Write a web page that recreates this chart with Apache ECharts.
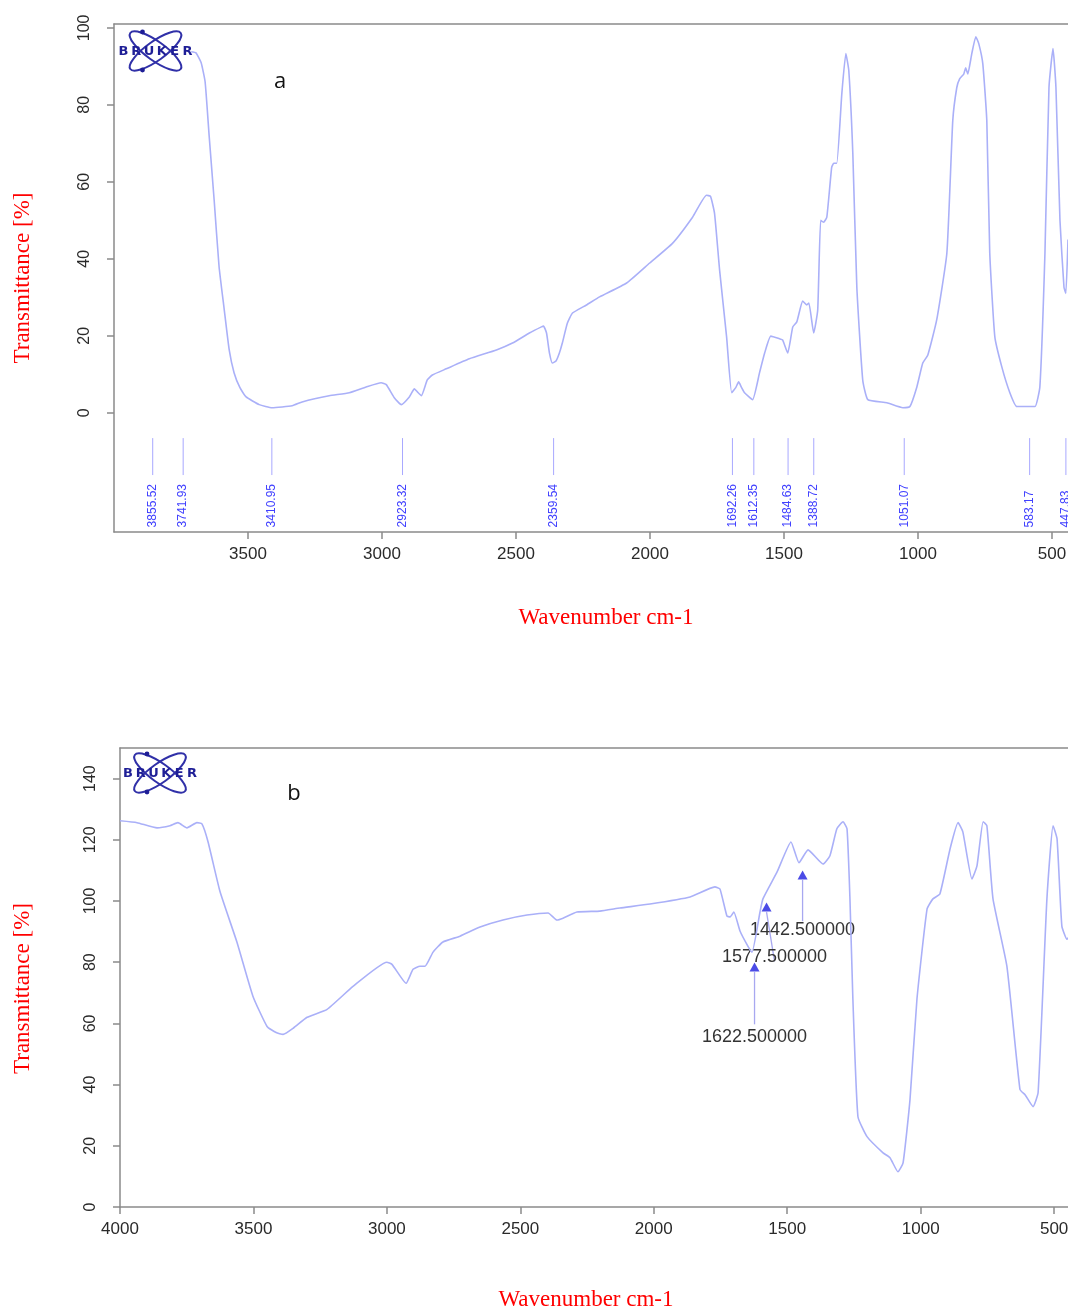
<!DOCTYPE html>
<html><head><meta charset="utf-8">
<script src="https://cdn.jsdelivr.net/npm/echarts@6/dist/echarts.min.js"></script>
<style>html,body{margin:0;padding:0;background:#fff;overflow:hidden}#chart{width:1068px;height:1313px}</style>
</head><body><div id="chart"></div>
<script>
// ---- Panel a (top) spectrum ----
const topWavenumber = [3712,3694,3675,3660,3645,3626,3608,3589,3570,3552,3530,3507,3458,3410,3335,3298,3197,3122,3059,3003,2984,2954,2928,2898,2879,2868,2853,2831,2812,2760,2674,2573,2513,2450,2405,2397,2386,2375,2364,2350,2338,2327,2308,2289,2237,2188,2087,2001,1916,1841,1789,1774,1759,1740,1714,1695,1680,1669,1658,1647,1617,1591,1572,1549,1516,1505,1486,1467,1452,1430,1415,1407,1389,1374,1363,1352,1340,1322,1314,1303,1284,1269,1258,1243,1228,1206,1187,1116,1056,1030,1004,982,963,930,892,870,855,844,829,822,814,799,784,773,758,743,732,713,687,657,631,593,563,545,526,511,496,485,470,455,448,440];
const topTransmittance = [93.8,93.5,91,86,72,55,38,27,16.3,10.4,6.5,4.1,2.1,1.3,1.8,2.8,4.4,5.2,6.7,7.8,7.3,3.9,2.1,4.1,6.2,5.4,4.4,8.5,9.8,11.4,14,16.3,18.1,20.7,22.3,22.5,20.7,15.5,12.9,13.5,15.5,18.1,23.3,25.9,28,30.1,33.7,38.9,44,50.8,56.5,56.2,51.8,37,19.7,5.2,6.5,8,6.5,5.2,3.4,10.4,15.5,19.9,19.2,18.9,15.5,22.3,23.6,29,28,28.5,20.7,26.7,50,49.5,50.8,63.7,64.8,64.8,82.9,93.3,88.9,67.4,32.6,8.5,3.4,2.6,1.3,1.6,6.7,12.9,15,24.1,41.5,75.9,84.5,86.8,88,89.6,88,93.3,97.7,95.9,90.7,75.9,41.5,19.7,11.9,5.2,1.6,1.6,1.6,6.7,41.5,84.5,94.6,84.5,50,32.6,31,45];
const topPeakLabels = [3855.52,3741.93,3410.95,2923.32,2359.54,1692.26,1612.35,1484.63,1388.72,1051.07,583.17,447.83];
const topXTicks = [3500,3000,2500,2000,1500,1000,500];
const topYTicks = [0,20,40,60,80,100];

// ---- Panel b (bottom) spectrum ----
const bottomWavenumber = [4000,3936,3861,3813,3783,3749,3712,3693,3670,3625,3562,3502,3449,3415,3389,3350,3299,3224,3127,3000,2981,2928,2902,2876,2857,2827,2790,2726,2651,2565,2475,2396,2363,2340,2288,2202,2127,2014,1864,1771,1752,1726,1714,1700,1677,1647,1632,1602,1591,1538,1486,1456,1422,1366,1340,1314,1291,1276,1265,1254,1235,1201,1141,1115,1085,1066,1040,1014,976,954,928,890,860,842,808,789,766,752,729,677,628,609,579,560,527,504,489,471,452,448];
const bottomTransmittance = [126.2,125.6,123.9,124.6,125.6,123.9,125.6,125.2,119.3,103,86.6,68.9,59,57,56.4,58.5,62,64.6,72.1,80,79.3,73.1,77.7,78.7,78.7,83.3,86.6,88.5,91.5,93.8,95.4,96.1,93.8,94.4,96.4,96.7,97.7,99,101.3,104.6,103.9,95.1,94.8,96.4,90.2,85.2,83.3,96.4,100.7,109.5,119.3,112.5,116.7,112.1,114.8,123.6,125.9,123.6,100.7,67.9,29.5,23,17.7,16.1,11.5,14.4,35.1,67.9,97.4,100.7,102.3,117,125.6,122.6,107.2,111.5,125.9,124.6,100.7,78.7,38.4,36.7,32.8,37.4,100.7,124.6,120.3,91.8,87.5,88];
const bottomAnnotWavenumber = [1622.5,1577.5,1442.5];
const bottomAnnotMarker = [78.4,98,108.5];
const bottomAnnotLineEnd = [59.7,80.3,93.4];
const bottomAnnotLabelY = [55.7,81.6,90.5];
const bottomXTicks = [4000,3500,3000,2500,2000,1500,1000,500];
const bottomYTicks = [0,20,40,60,80,100,120,140];

const zip = (a,b) => a.map((v,i)=>[v,b[i]]);
const AXIS_COLOR = '#8a8a8a';
const CURVE_COLOR = '#aab0f8';
const plain = v => String(v);

function xAxisMain(grid, min, ticks, gap, pad){
  return {gridIndex:grid, type:'value', min:min, max:4000, inverse:true,
    axisLine:{show:true, onZero:false, lineStyle:{color:AXIS_COLOR, width:1.5}},
    axisTick:{show:true, length:7, customValues:ticks, lineStyle:{color:AXIS_COLOR, width:1.5}},
    axisLabel:{customValues:ticks, formatter:plain, margin:14, fontSize:17, color:'#2a2a2a', fontFamily:'"Liberation Sans", Arial, sans-serif'},
    splitLine:{show:false},
    name:'Wavenumber cm-1', nameLocation:'middle', nameGap:gap,
    nameTextStyle:{color:'#ff0000', fontFamily:'"Liberation Serif", serif', fontSize:23, padding:pad}};
}
function xAxisTop(grid, min){
  return {gridIndex:grid, type:'value', position:'top', min:min, max:4000, inverse:true,
    axisLine:{show:true, onZero:false, lineStyle:{color:AXIS_COLOR, width:1.5}},
    axisTick:{show:false}, axisLabel:{show:false}, splitLine:{show:false}};
}
function yAxisMain(grid, min, max, ticks, gap, pad){
  return {gridIndex:grid, type:'value', min:min, max:max,
    axisLine:{show:true, onZero:false, lineStyle:{color:AXIS_COLOR, width:1.5}},
    axisTick:{show:true, length:7, customValues:ticks, lineStyle:{color:AXIS_COLOR, width:1.5}},
    axisLabel:{customValues:ticks, formatter:plain, rotate:90, margin:21, fontSize:16, color:'#2a2a2a', fontFamily:'"Liberation Sans", Arial, sans-serif'},
    splitLine:{show:false},
    name:'Transmittance [%]', nameLocation:'middle', nameGap:gap,
    nameTextStyle:{color:'#ff0000', fontFamily:'"Liberation Serif", serif', fontSize:23, padding:pad}};
}

function logo(cx, cy){
  const col = '#1e1e96';
  const els = [
    {type:'ellipse', x:cx, y:cy, rotation:0.62, shape:{cx:0, cy:0, rx:31, ry:9.5}, style:{fill:null, stroke:'#3030a8', lineWidth:2}},
    {type:'ellipse', x:cx, y:cy, rotation:-0.62, shape:{cx:0, cy:0, rx:31, ry:9.5}, style:{fill:null, stroke:'#3030a8', lineWidth:2}},
    {type:'circle', shape:{cx:cx-13, cy:cy-19, r:2.4}, style:{fill:col}},
    {type:'circle', shape:{cx:cx-13, cy:cy+19, r:2.4}, style:{fill:col}}
  ];
  'BRUKER'.split('').forEach((ch,i)=>{
    els.push({type:'text', x:cx-32+i*12.8, y:cy+1, style:{text:ch, fill:col, font:'bold 13px "DejaVu Sans", sans-serif', align:'center', verticalAlign:'middle'}});
  });
  return els;
}

const chart = echarts.init(document.getElementById('chart'), null, {renderer:'canvas'});
chart.setOption({
  animation:false,
  backgroundColor:'#ffffff',
  grid:[
    {left:114, right:0, top:24, height:508, outerBoundsMode:'none', containLabel:false},
    {left:120, right:0, top:748, height:459, outerBoundsMode:'none', containLabel:false}
  ],
  xAxis:[
    xAxisMain(0, 440, topXTicks, 74, [0,0,0,30]),
    xAxisTop(0, 440),
    xAxisMain(1, 448, bottomXTicks, 81, [0,16,0,0]),
    xAxisTop(1, 448)
  ],
  yAxis:[
    yAxisMain(0, -31, 101, topYTicks, 80, [0,0,0,0]),
    yAxisMain(1, 0, 150, bottomYTicks, 86, [0,22,0,0])
  ],
  series:[
    {type:'line', xAxisIndex:0, yAxisIndex:0, data:zip(topWavenumber, topTransmittance),
      symbol:'none', smooth:0.15, lineStyle:{color:CURVE_COLOR, width:1.6}},
    {type:'custom', xAxisIndex:0, yAxisIndex:0, data:topPeakLabels.map(v=>[v,-16]), encode:{x:0,y:1}, clip:false,
      renderItem:function(params, api){
        const w = api.value(0);
        const p1 = api.coord([w,-6.6]), p2 = api.coord([w,-16.2]), p3 = api.coord([w,-29.8]);
        return {type:'group', children:[
          {type:'line', shape:{x1:p1[0], y1:p1[1], x2:p2[0], y2:p2[1]}, style:{stroke:'#a8a8ff', lineWidth:1}},
          {type:'text', x:p3[0], y:p3[1], rotation:Math.PI/2,
            style:{text:w.toFixed(2), fill:'#4040ff', font:'12px "Liberation Sans Narrow", "Liberation Sans", Arial, sans-serif', align:'left', verticalAlign:'middle'}}
        ]};
      }},
    {type:'line', xAxisIndex:2, yAxisIndex:1, data:zip(bottomWavenumber, bottomTransmittance),
      symbol:'none', smooth:0.15, lineStyle:{color:CURVE_COLOR, width:1.6}},
    {type:'custom', xAxisIndex:2, yAxisIndex:1, encode:{x:0,y:1}, clip:false,
      data:bottomAnnotWavenumber.map((w,i)=>[w, bottomAnnotMarker[i], bottomAnnotLineEnd[i], bottomAnnotLabelY[i]]),
      renderItem:function(params, api){
        const w = api.value(0);
        const shift = params.dataIndex === 1 ? 8 : 0;
        const a = api.coord([w, api.value(1)]);
        const b = api.coord([w, api.value(2)]);
        const c = api.coord([w, api.value(3)]);
        return {type:'group', children:[
          {type:'line', shape:{x1:a[0], y1:a[1]+5, x2:b[0]+shift, y2:b[1]}, style:{stroke:'#a8a8f0', lineWidth:1.3}},
          {type:'text', x:c[0]+shift, y:c[1],
            style:{text:w.toFixed(6), fill:'#333333', font:'18px "Liberation Sans", Arial, sans-serif', align:'center', verticalAlign:'middle'}}
        ]};
      }},
    {type:'scatter', xAxisIndex:2, yAxisIndex:1, data:zip(bottomAnnotWavenumber, bottomAnnotMarker),
      symbol:'triangle', symbolSize:[10,9], itemStyle:{color:'#1e1ee0'}, z:5}
  ],
  graphic:[
    ...logo(155.5, 51),
    ...logo(160, 773),
    {type:'text', x:280, y:82, style:{text:'a', fill:'#111', font:'22px "Open Sans", sans-serif', align:'center', verticalAlign:'middle'}},
    {type:'text', x:294, y:794, style:{text:'b', fill:'#111', font:'22px "Open Sans", sans-serif', align:'center', verticalAlign:'middle'}}
  ]
});
</script></body></html>
